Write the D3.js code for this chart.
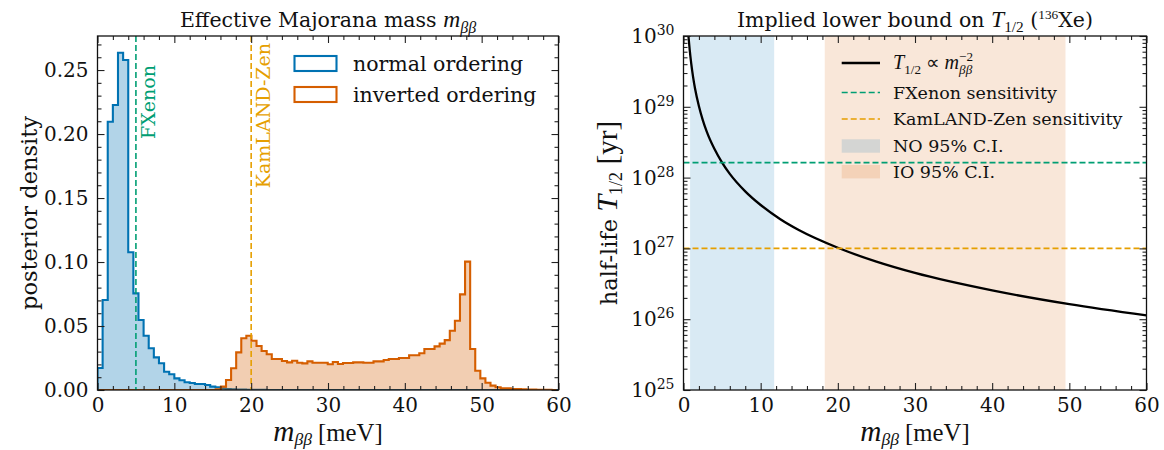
<!DOCTYPE html>
<html>
<head>
<meta charset="utf-8">
<script src="https://cdn.jsdelivr.net/npm/d3@7"></script>
<style>
body { margin: 0; background: #fff; }
text { font-family: "DejaVu Serif", serif; fill: #111; }
</style>
</head>
<body>
<svg id="chart" width="1164" height="450"></svg>
<script>
// ---- data ----
// normal ordering histogram (bin edges start at noBinStart, width noBinWidth, meV)
const noBinStart = 0;
const noBinWidth = 0.6667;
const noDensity = [
  0.0172, 0.0703, 0.2096, 0.2227, 0.2635, 0.2578, 0.1076, 0.0755, 0.0547, 0.0424,
  0.0326, 0.0255, 0.0209, 0.0143, 0.0123, 0.0091, 0.0076, 0.0060, 0.0055, 0.0047,
  0.0047, 0.0039, 0.0026, 0.0021, 0.0013, 0.0008, 0.0006, 0.0004, 0.0003, 0.0002,
  0.0002, 0.0001, 0.0001, 0, 0, 0, 0, 0, 0, 0,
  0, 0, 0, 0, 0, 0, 0, 0, 0, 0,
  0, 0, 0, 0, 0, 0, 0, 0, 0, 0,
  0, 0, 0, 0, 0, 0, 0, 0, 0, 0,
  0, 0, 0, 0, 0, 0, 0, 0, 0, 0,
  0, 0, 0, 0, 0, 0, 0, 0, 0, 0
];
// inverted ordering histogram
const ioBinStart = 0.175;
const ioBinWidth = 0.662;
const ioDensity = [
  0, 0, 0, 0, 0, 0, 0, 0, 0, 0,
  0, 0, 0, 0, 0, 0, 0, 0, 0, 0,
  0, 0, 0, 0.0005, 0.0026, 0.0078, 0.0170, 0.0294, 0.0404, 0.0424,
  0.0385, 0.0344, 0.0305, 0.0279, 0.0242, 0.0242, 0.0227, 0.0216, 0.0229, 0.0213,
  0.0208, 0.0224, 0.0213, 0.0213, 0.0213, 0.0201, 0.0219, 0.0203, 0.0211, 0.0211,
  0.0216, 0.0216, 0.0213, 0.0213, 0.0224, 0.0224, 0.0234, 0.0242, 0.0242, 0.0250,
  0.0250, 0.0271, 0.0271, 0.0287, 0.0320, 0.0320, 0.0341, 0.0362, 0.0390, 0.0463,
  0.0541, 0.0747, 0.1003, 0.0320, 0.0151, 0.0091, 0.0057, 0.0034, 0.0021, 0.0013,
  0.0013, 0.0008, 0.0008, 0.0006, 0.0004, 0.0003, 0.0002, 0.0001, 0.0001, 0
];
const massTicks = [0, 10, 20, 30, 40, 50, 60];
const densityTicks = [0, 0.05, 0.10, 0.15, 0.20, 0.25];
const decadeTicks = [25, 26, 27, 28, 29, 30];

const fxenonMass = 5;
const kamlandMass = 20;
const fxenonHalfLife = 1.63e28;
const kamlandHalfLife = 1e27;
const noInterval = [0.85, 11.75];
const ioInterval = [18.3, 49.5];

// T_1/2 curve
const curveMass = [0.64, 0.8, 1, 1.25, 1.5, 2, 2.5, 3, 4, 5, 6, 8, 10, 12.5, 15, 20, 25, 30, 40, 50, 60];
const curveHalfLife = [1.0e30, 6.4e29, 4.1e29, 2.6e29, 1.8e29, 1.02e29, 6.5e28, 4.5e28, 2.55e28, 1.63e28,
  1.13e28, 6.4e27, 4.1e27, 2.6e27, 1.8e27, 1.02e27, 6.5e26, 4.5e26, 2.55e26, 1.63e26, 1.13e26];

// ---- styling ----
const BLUE = '#0072B2', ORANGE = '#D55E00', GREEN = '#009E73', GOLD = '#E69F00';
const BASE = 20.5, TICKFS = 20, LEGFS = 17.5, LABFS = 22.5;
const MATHFONT = '"Liberation Serif", serif';

const svg = d3.select('#chart');
const left = {x0: 97.5, x1: 558.5, y0: 36, y1: 390};
const right = {x0: 683.5, x1: 1146.5, y0: 36, y1: 390};

const xL = d3.scaleLinear().domain([0, 60]).range([left.x0, left.x1]);
const yL = d3.scaleLinear().domain([0, 0.2766]).range([left.y1, left.y0]);
const xR = d3.scaleLinear().domain([0, 60]).range([right.x0, right.x1]);
const yR = d3.scaleLog().domain([1e25, 1e30]).range([right.y1, right.y0]);

/**
 * append rich text pieces (italic, sub/superscripts) into a text element
 */
function addMath(textSel, parts, base){
  let cur = 0;
  let prev = null;
  parts.forEach(function(p){
    const off = p.off || 0;
    const ts = textSel.append('tspan')
      .attr('dy', off - cur)
      .style('font-size', ((p.size || 1) * base) + 'px')
      .text(p.t);
    if(p.it) ts.style('font-family', MATHFONT).style('font-style', 'italic');
    if(p.rm) ts.style('font-family', MATHFONT);
    if(p.stack && prev) ts.attr('dx', -prev.node().getComputedTextLength());
    cur = off;
    prev = ts;
  });
  return textSel;
}
const mbb = function(base, big, sub){
  return [{t: 'm', it: true, size: big || 1.15}, {t: 'ββ', it: true, size: 0.78, off: (sub || 0.27) * base}];
};

let defs = svg.append('defs');
[['clipL', left], ['clipR', right]].forEach(function(c){
  defs.append('clipPath').attr('id', c[0]).append('rect')
    .attr('x', c[1].x0).attr('y', c[1].y0)
    .attr('width', c[1].x1 - c[1].x0).attr('height', c[1].y1 - c[1].y0);
});

// ---- axes helper: inward ticks on four sides ----
function drawFrame(box, xScale, yScale, xMajor, xMinor, yMajor, yMinor, yFormat){
  const g = svg.append('g');
  const ax = [
    [d3.axisBottom(xScale).tickValues(xMajor).tickSize(-7).tickPadding(8), 'translate(0,' + box.y1 + ')'],
    [d3.axisBottom(xScale).tickValues(xMinor).tickSize(-4).tickFormat(''), 'translate(0,' + box.y1 + ')'],
    [d3.axisTop(xScale).tickValues(xMajor).tickSize(-7).tickFormat(''), 'translate(0,' + box.y0 + ')'],
    [d3.axisTop(xScale).tickValues(xMinor).tickSize(-4).tickFormat(''), 'translate(0,' + box.y0 + ')'],
    [d3.axisLeft(yScale).tickValues(yMajor).tickSize(-7).tickPadding(9).tickFormat(yFormat), 'translate(' + box.x0 + ',0)'],
    [d3.axisLeft(yScale).tickValues(yMinor).tickSize(-4).tickFormat(''), 'translate(' + box.x0 + ',0)'],
    [d3.axisRight(yScale).tickValues(yMajor).tickSize(-7).tickFormat(''), 'translate(' + box.x1 + ',0)'],
    [d3.axisRight(yScale).tickValues(yMinor).tickSize(-4).tickFormat(''), 'translate(' + box.x1 + ',0)']
  ];
  const out = [];
  ax.forEach(function(a){
    const ag = g.append('g').attr('transform', a[1]).call(a[0]);
    ag.select('.domain').remove();
    ag.selectAll('line').attr('stroke', '#222').attr('stroke-width', 1.1);
    ag.selectAll('text').attr('font-family', '"DejaVu Serif", serif').attr('font-size', TICKFS).attr('fill', '#111');
    out.push(ag);
  });
  g.append('rect')
    .attr('x', box.x0).attr('y', box.y0)
    .attr('width', box.x1 - box.x0).attr('height', box.y1 - box.y0)
    .attr('fill', 'none').attr('stroke', '#111').attr('stroke-width', 1.3);
  return out;
}

function stepPoints(start, width, vals){
  const pts = [[start, 0]];
  vals.forEach(function(v, i){
    pts.push([start + i * width, v]);
    pts.push([start + (i + 1) * width, v]);
  });
  pts.push([start + vals.length * width, 0]);
  return pts;
}

// ================= left panel =================
const histLine = d3.line().x(d => xL(d[0])).y(d => yL(d[1]));
const lp = svg.append('g').attr('clip-path', 'url(#clipL)');
const hists = [
  [noBinStart, noBinWidth, noDensity, BLUE],
  [ioBinStart, ioBinWidth, ioDensity, ORANGE]
];
hists.forEach(function(h){
  const pts = stepPoints(h[0], h[1], h[2]);
  lp.append('path').attr('d', histLine(pts) + 'Z')
    .attr('fill', h[3]).attr('fill-opacity', 0.3).attr('stroke', 'none');
  lp.append('path').attr('d', histLine(pts))
    .attr('fill', 'none').attr('stroke', h[3]).attr('stroke-width', 2.1)
    .attr('stroke-linejoin', 'miter');
});
[[fxenonMass, GREEN], [kamlandMass, GOLD]].forEach(function(v){
  lp.append('line')
    .attr('x1', xL(v[0])).attr('x2', xL(v[0]))
    .attr('y1', left.y0).attr('y2', left.y1)
    .attr('stroke', v[1]).attr('stroke-width', 1.6).attr('stroke-dasharray', '6,3');
});
svg.append('text')
  .attr('transform', 'translate(' + (xL(fxenonMass) + 19) + ',65) rotate(-90)')
  .attr('text-anchor', 'end').attr('font-size', 19).style('fill', GREEN).text('FXenon');
svg.append('text')
  .attr('transform', 'translate(' + (xL(kamlandMass) + 19) + ',43) rotate(-90)')
  .attr('text-anchor', 'end').attr('font-size', 19).style('fill', GOLD).text('KamLAND-Zen');

const minorMass = d3.range(0, 61, 2).filter(v => v % 10 !== 0);
drawFrame(left, xL, yL, massTicks, minorMass, densityTicks,
  d3.range(0, 0.2701, 0.01).filter((v, i) => i % 5 !== 0), d3.format('.2f'));

// legend
[['normal ordering', BLUE, 56], ['inverted ordering', ORANGE, 87]].forEach(function(l){
  svg.append('rect').attr('x', 294.5).attr('y', l[2]).attr('width', 42).attr('height', 15)
    .attr('fill', '#fff').attr('stroke', l[1]).attr('stroke-width', 2.1);
  svg.append('text').attr('x', 353).attr('y', l[2] + 14.5).attr('font-size', BASE).text(l[0]);
});

// title and labels
addMath(svg.append('text').attr('x', (left.x0 + left.x1) / 2).attr('y', 27)
  .attr('text-anchor', 'middle').attr('font-size', BASE),
  [{t: 'Effective Majorana mass '}].concat(mbb(BASE)), BASE);
addMath(svg.append('text').attr('x', (left.x0 + left.x1) / 2).attr('y', 441)
  .attr('text-anchor', 'middle').attr('font-size', LABFS),
  mbb(LABFS, 1.3, 0.17).concat([{t: ' [meV]', rm: true, size: 1.1, off: 0}]), LABFS);
svg.append('text').attr('transform', 'translate(37,' + ((left.y0 + left.y1) / 2) + ') rotate(-90)')
  .attr('text-anchor', 'middle').attr('font-size', LABFS).text('posterior density');

// ================= right panel =================
const rp = svg.append('g').attr('clip-path', 'url(#clipR)');
[[noInterval, BLUE], [ioInterval, ORANGE]].forEach(function(b){
  rp.append('rect').attr('x', xR(b[0][0])).attr('y', right.y0)
    .attr('width', xR(b[0][1]) - xR(b[0][0])).attr('height', right.y1 - right.y0)
    .attr('fill', b[1]).attr('fill-opacity', 0.15);
});
const curvePts = curveMass.map((m, i) => [m, curveHalfLife[i]]);
rp.append('path')
  .attr('d', d3.line().x(d => xR(d[0])).y(d => yR(d[1])).curve(d3.curveMonotoneX)(curvePts))
  .attr('fill', 'none').attr('stroke', '#000').attr('stroke-width', 2.3);
[[fxenonHalfLife, GREEN], [kamlandHalfLife, GOLD]].forEach(function(h){
  rp.append('line').attr('x1', right.x0).attr('x2', right.x1)
    .attr('y1', yR(h[0])).attr('y2', yR(h[0]))
    .attr('stroke', h[1]).attr('stroke-width', 1.6).attr('stroke-dasharray', '6,3');
});

const logMinor = [];
decadeTicks.slice(0, -1).forEach(function(e){
  for(let k = 2; k <= 9; k++) logMinor.push(k * Math.pow(10, e));
});
const rAxes = drawFrame(right, xR, yR, massTicks, minorMass,
  decadeTicks.map(e => Math.pow(10, e)), logMinor, d => d);
rAxes[4].selectAll('.tick text').each(function(d){
  const t = d3.select(this).text('');
  t.append('tspan').text('10');
  t.append('tspan').attr('dy', -8).attr('font-size', 14).text(Math.round(Math.log10(d)));
});

// legend
const lx0 = 841.7, lx1 = 880, tx = 893;
svg.append('line').attr('x1', lx0).attr('x2', lx1).attr('y1', 63).attr('y2', 63)
  .attr('stroke', '#000').attr('stroke-width', 2.3);
addMath(svg.append('text').attr('x', tx).attr('y', 69).attr('font-size', LEGFS), [
  {t: 'T', it: true, size: 1.15}, {t: '1/2', rm: true, size: 0.75, off: 4.5},
  {t: ' ∝ ', rm: true, size: 1.1, off: 0}, {t: 'm', it: true, size: 1.15},
  {t: 'ββ', it: true, size: 0.75, off: 5}, {t: '−2', rm: true, size: 0.75, off: -8, stack: true}
], LEGFS);
[['FXenon sensitivity', GREEN, 92.5], ['KamLAND-Zen sensitivity', GOLD, 119]].forEach(function(l){
  svg.append('line').attr('x1', lx0).attr('x2', lx1).attr('y1', l[2]).attr('y2', l[2])
    .attr('stroke', l[1]).attr('stroke-width', 1.6).attr('stroke-dasharray', '6,3');
  svg.append('text').attr('x', tx).attr('y', l[2] + 6).attr('font-size', LEGFS).text(l[0]);
});
[['NO 95% C.I.', BLUE, 146], ['IO 95% C.I.', ORANGE, 171.7]].forEach(function(l){
  svg.append('rect').attr('x', lx0).attr('y', l[2] - 6.7).attr('width', lx1 - lx0).attr('height', 13.4)
    .attr('fill', l[1]).attr('fill-opacity', 0.15);
  svg.append('text').attr('x', tx).attr('y', l[2] + 6).attr('font-size', LEGFS).text(l[0]);
});

// title and labels
addMath(svg.append('text').attr('x', (right.x0 + right.x1) / 2).attr('y', 27)
  .attr('text-anchor', 'middle').attr('font-size', BASE), [
  {t: 'Implied lower bound on '}, {t: 'T', it: true, size: 1.15},
  {t: '1/2', rm: true, size: 0.75, off: 5}, {t: ' (', off: 0},
  {t: '136', rm: true, size: 0.65, off: -8}, {t: 'Xe)', off: 0}
], BASE);
addMath(svg.append('text').attr('x', (right.x0 + right.x1) / 2).attr('y', 441)
  .attr('text-anchor', 'middle').attr('font-size', LABFS),
  mbb(LABFS, 1.3, 0.17).concat([{t: ' [meV]', rm: true, size: 1.1, off: 0}]), LABFS);
addMath(svg.append('text').attr('transform', 'translate(617,' + ((right.y0 + right.y1) / 2) + ') rotate(-90)')
  .attr('text-anchor', 'middle').attr('font-size', LABFS), [
  {t: 'half-life '}, {t: 'T', it: true, size: 1.35},
  {t: '1/2', rm: true, size: 0.8, off: 5}, {t: ' [yr]', rm: true, size: 1.3, off: 0}
], LABFS);
</script>
</body>
</html>
